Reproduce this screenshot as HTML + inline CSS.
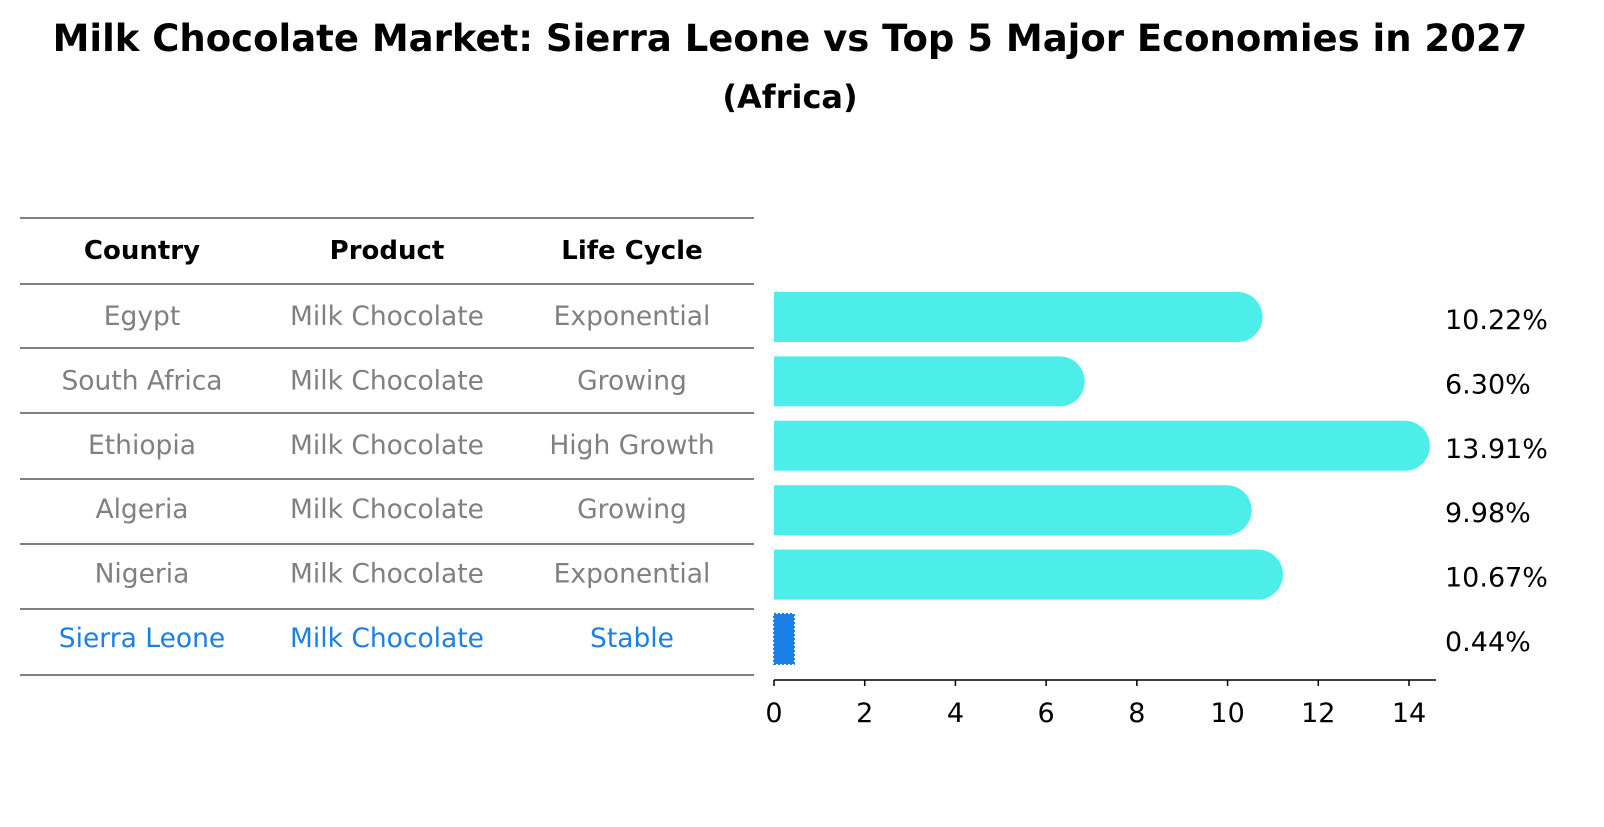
<!DOCTYPE html>
<html><head><meta charset="utf-8"><style>
body{margin:0;background:#fff;font-family:"DejaVu Sans","Liberation Sans",sans-serif}
</style></head><body>
<svg width="1604" height="823" xmlns="http://www.w3.org/2000/svg" id="svg">
<text x="790" y="51" text-anchor="middle" font-size="37" font-weight="bold">Milk Chocolate Market: Sierra Leone vs Top 5 Major Economies in 2027</text>
<text x="790" y="108" text-anchor="middle" font-size="32" font-weight="bold">(Africa)</text>
<g id="table"></g>
<g id="bars"></g>
</svg>
<script>
const countries=["Egypt","South Africa","Ethiopia","Algeria","Nigeria","Sierra Leone"];
const products=["Milk Chocolate","Milk Chocolate","Milk Chocolate","Milk Chocolate","Milk Chocolate","Milk Chocolate"];
const lifecycles=["Exponential","Growing","High Growth","Growing","Exponential","Stable"];
const values=[10.22,6.30,13.91,9.98,10.67,0.44];
const ticks=[0,2,4,6,8,10,12,14];
const NS="http://www.w3.org/2000/svg";
function mk(t,a,p){const e=document.createElementNS(NS,t);for(const k in a)e.setAttribute(k,a[k]);p.appendChild(e);return e;}
const tb=document.getElementById('table'),bg=document.getElementById('bars');
const lines=[218,284,348,413,479,544,609,675];
lines.forEach(y=>{const l=mk('line',{x1:20,x2:754,y1:y,y2:y,stroke:'#000','stroke-width':1},tb);

});
const cx=[142,387,632];
["Country","Product","Life Cycle"].forEach((h,i)=>{const t=mk('text',{x:cx[i],y:259,'text-anchor':'middle','font-size':26,'font-weight':'bold'},tb);t.textContent=h;

});
const x0=774,sc=(1409-774)/14;
function X(v){return x0+v*sc;}
const rowH=64.4,r0=317;
countries.forEach((c,i)=>{
 const y=r0+i*rowH;const last=i===countries.length-1;const col=last?'#1a80e6':'#808080';
 [c,products[i],lifecycles[i]].forEach((s,j)=>{const t=mk('text',{x:cx[j],y:y+8,'text-anchor':'middle','font-size':26.5,fill:col},tb);t.textContent=s;
 
 });
 let b;
 if(last){b=mk('rect',{x:x0,y:y-25,width:X(values[i])-x0,height:50,fill:'#1a80e6',stroke:'#1a80e6','stroke-width':2,'stroke-dasharray':'2 2'},bg);}
 else{const xe=X(values[i]);b=mk('path',{d:`M${x0},${y-25}H${xe}A25,25 0 0 1 ${xe},${y+25}H${x0}Z`,fill:'#4deeea'},bg);}
 
 
 const vl=mk('text',{x:1445,y:y+12,'font-size':27},bg);vl.textContent=values[i].toFixed(2)+'%';
 
 
});
const ax=mk('line',{x1:x0,x2:1436,y1:680,y2:680,stroke:'#000','stroke-width':1.5},bg);


ticks.forEach(v=>{const tk=mk('line',{x1:X(v),x2:X(v),y1:680,y2:686,stroke:'#000','stroke-width':1.5},bg);


const t=mk('text',{x:X(v),y:722,'text-anchor':'middle','font-size':27},bg);t.textContent=v;

});
</script>
</body></html>
